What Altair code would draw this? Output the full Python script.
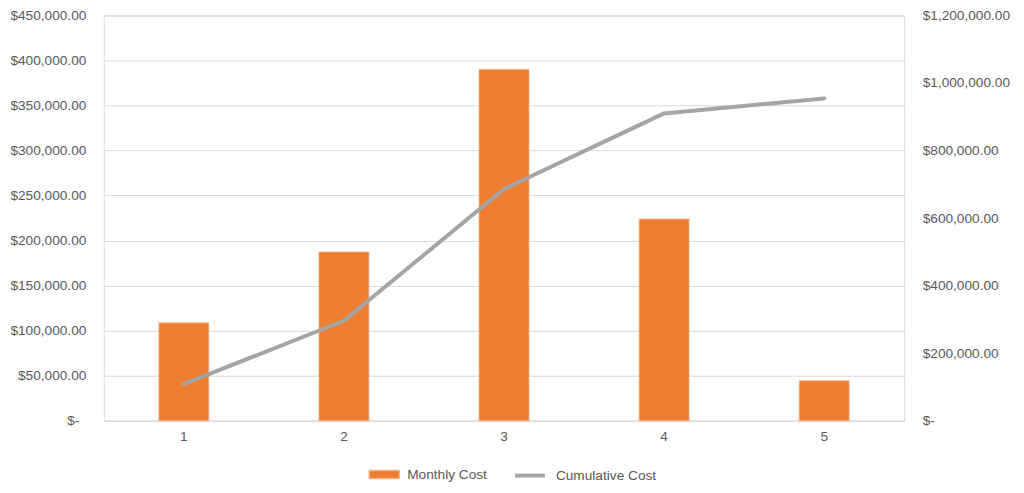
import altair as alt
import pandas as pd

months = ["1", "2", "3", "4", "5"]
monthly_cost = [108600, 187300, 390100, 223900, 44300]
cumulative_cost = [108600, 295900, 686000, 909900, 954200]
left_ticks = [0, 50000, 100000, 150000, 200000, 250000, 300000, 350000, 400000, 450000]
right_ticks = [0, 200000, 400000, 600000, 800000, 1000000, 1200000]

df = pd.DataFrame({
    "month": months,
    "monthly": monthly_cost,
    "cumulative": cumulative_cost,
    "s1": ["Monthly Cost"] * 5,
    "s2": ["Cumulative Cost"] * 5,
})

FONT = "Liberation Sans"
FS = 13.7
TXT = "#595959"

x = alt.X("month:N", sort=months, title=None,
          scale=alt.Scale(paddingInner=0.688, paddingOuter=0.344),
          axis=alt.Axis(labelAngle=0, ticks=False, domainColor="#D9D9D9",
                        labelPadding=9, labelFontSize=FS, labelColor=TXT, labelFont=FONT))

bars = alt.Chart(df).mark_bar(stroke="#F4B183", strokeWidth=0.8).encode(
    x=x,
    y=alt.Y("monthly:Q", title=None,
            scale=alt.Scale(domain=[0, 450000], nice=False),
            axis=alt.Axis(orient="left", values=left_ticks, grid=True, gridColor="#D9D9D9",
                          domain=False, ticks=False,
                          labelPadding={"condition": {"test": "datum.value == 0", "value": 25}, "value": 18},
                          labelFontSize=FS, labelColor=TXT, labelFont=FONT,
                          labelExpr="datum.value == 0 ? '$-' : '$' + format(datum.value, ',.2f')")),
    color=alt.Color("s1:N", scale=alt.Scale(domain=["Monthly Cost"], range=["#ED7D31"]),
                    legend=alt.Legend(orient="none", legendX=265, legendY=444, title=None,
                                      symbolType="M-1,-0.27H1V0.27H-1Z", symbolSize=900,
                                      labelFontSize=FS, labelColor=TXT, labelFont=FONT,
                                      labelOffset=7, padding=0)),
)

line = alt.Chart(df).mark_line(strokeWidth=4, strokeCap="round", strokeJoin="round").encode(
    x=alt.X("month:N", sort=months),
    y=alt.Y("cumulative:Q", title=None,
            scale=alt.Scale(domain=[0, 1200000], nice=False),
            axis=alt.Axis(orient="right", values=right_ticks, grid=False,
                          domain=False, ticks=False, labelPadding=18, labelFontSize=FS,
                          labelColor=TXT, labelFont=FONT,
                          labelExpr="datum.value == 0 ? '$-' : '$' + format(datum.value, ',.2f')")),
    stroke=alt.Stroke("s2:N", scale=alt.Scale(domain=["Cumulative Cost"], range=["#A5A5A5"]),
                      legend=alt.Legend(orient="none", legendX=410, legendY=444, title=None,
                                        symbolType="stroke", symbolSize=900, symbolStrokeWidth=4,
                                        labelFontSize=FS, labelColor=TXT, labelFont=FONT,
                                        labelOffset=9, padding=0)),
)

chart = alt.layer(bars, line).resolve_scale(y="independent", color="independent").properties(
    width=802, height=406,
    padding={"left": 96, "top": 7, "right": 112, "bottom": 70},
    autosize=alt.AutoSizeParams(type="none"),
).configure_view(stroke=None).configure(background="white")

chart.save("out.html", embed_options={"renderer": "svg", "actions": False})
